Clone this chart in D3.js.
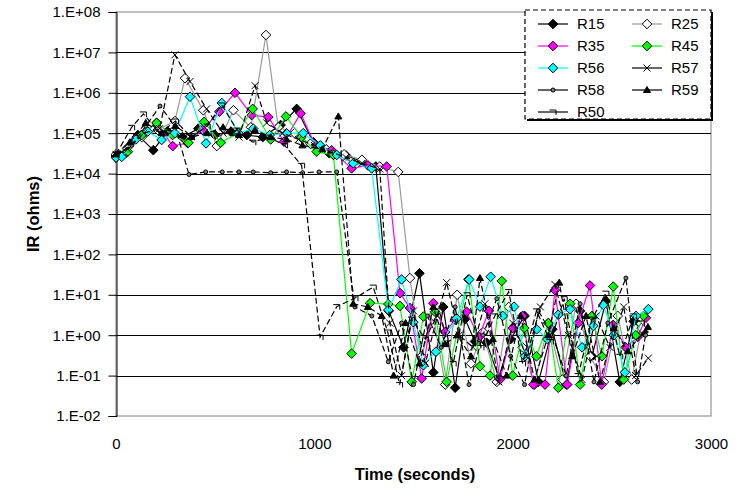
<!DOCTYPE html>
<html><head><meta charset="utf-8">
<script src="https://cdn.jsdelivr.net/npm/d3@7/dist/d3.min.js"></script>
<style>body{margin:0;background:#fff}svg{display:block}text{font-family:"Liberation Sans",Arial,sans-serif}</style>
</head><body><svg id="c" width="740" height="489"></svg>
<script>
const xTicks = [0, 1000, 2000, 3000];
const yTicks = [1e-2, 1e-1, 1e0, 1e1, 1e2, 1e3, 1e4, 1e5, 1e6, 1e7, 1e8];
const yTickLabels = ["1.E-02","1.E-01","1.E+00","1.E+01","1.E+02","1.E+03","1.E+04","1.E+05","1.E+06","1.E+07","1.E+08"];
const seriesNames = ["R15","R25","R35","R45","R56","R57","R58","R59","R50"];

const R15 = [[0,2.8e4],[45,3.2e4],[110,9e4],[188,3.8e4],[260,1.1e5],[335,8e4],[415,1.3e5],[499,9e4],[580,1.1e5],[660,9e4],[740,8e4],[830,1.6e5],[911,4e5],[995,6e4],[1075,3.2e4],[1160,2.8e4],[1240,2e4],[1310,1.5e4],[1375,4],[1450,0.5],[1530,34],[1600,0.12],[1650,5],[1710,0.05],[1760,2.5],[1810,0.7],[1869,0.65],[1930,0.09],[1990,0.8],[2060,3],[2130,0.07],[2200,1.4],[2270,0.06],[2340,4],[2400,0.3],[2470,7],[2540,0.07],[2610,2.2],[2660,1.2]];
const R25 = [[0,3e4],[55,4.2e4],[130,8e4],[210,1.2e5],[297,2e5],[348,2.3e6],[440,3.7e5],[508,4.8e4],[592,3.7e5],[680,1.4e5],[756,2.7e7],[818,1.4e5],[900,1e5],[980,5.5e4],[1060,4e4],[1150,3e4],[1240,2.2e4],[1330,1.5e4],[1423,1.1e4],[1482,26],[1540,0.3],[1600,3],[1660,0.06],[1720,10],[1790,0.2],[1850,1.2],[1920,0.07],[1980,5],[2050,0.5],[2110,0.06],[2180,2],[2250,0.08],[2320,6],[2390,0.3],[2460,0.07],[2530,3],[2600,0.08],[2650,1.5]];
const R35 = [[0,2.5e4],[50,3.2e4],[104,8e4],[205,1.8e5],[286,4.8e4],[361,5.7e4],[437,1.2e5],[521,3.4e5],[600,1e6],[684,2.8e5],[768,2.5e5],[847,6.2e4],[931,3.1e5],[1007,4.7e4],[1087,3.8e4],[1188,1.35e4],[1270,1.6e4],[1365,1.5e4],[1432,11],[1482,4.7],[1541,0.085],[1600,6.2],[1660,1.2],[1709,2.4],[1768,3.8],[1830,0.9],[1880,4],[1936,0.08],[2000,1.5],[2050,3],[2104,0.06],[2163,0.06],[2213,13],[2275,0.06],[2330,2],[2390,17],[2449,0.06],[2507,1.8],[2570,0.5],[2630,0.9],[2672,2.7]];
const R45 = [[0,2.6e4],[60,3.5e4],[130,9e4],[205,1.8e5],[285,9e4],[365,5.8e4],[444,1.9e5],[528,5.8e4],[612,1e5],[689,4e5],[780,7e4],[857,2.6e5],[935,8e4],[1012,3.5e4],[1096,2.9e4],[1188,0.35],[1281,6.2],[1373,5.9],[1432,5.3],[1491,0.07],[1550,2.9],[1608,3.8],[1667,0.07],[1777,24],[1835,0.17],[1886,0.1],[1945,22],[2000,0.1],[2059,1.5],[2120,0.3],[2180,2],[2230,0.05],[2290,6],[2340,0.06],[2400,3],[2450,0.3],[2507,16],[2560,0.08],[2621,1],[2660,3]];
const R56 = [[0,2.5e4],[29,2.6e4],[100,7e4],[160,1.1e5],[230,6.8e4],[297,1e5],[373,8e5],[454,5.6e4],[533,5.6e5],[617,1e5],[692,1.3e5],[775,9e4],[860,1e5],[944,1e5],[1030,5e4],[1113,2.9e4],[1196,1.8e4],[1289,1.35e4],[1373,4.2],[1440,24],[1499,2.1],[1550,0.18],[1613,0.39],[1717,2.6],[1781,24],[1835,5.1],[1889,28],[1950,3],[2007,5.1],[2062,0.3],[2121,1.4],[2175,0.8],[2230,3.2],[2289,4.4],[2350,0.5],[2407,1.7],[2457,5.6],[2510,1],[2566,0.12],[2622,3],[2684,4.4]];
const R57 = [[0,3e4],[60,4e4],[140,1e5],[220,1.3e5],[297,8.7e6],[373,1.9e6],[457,4e5],[540,1e5],[620,8e4],[701,1.5e6],[760,1.8e5],[840,1e5],[920,7e4],[1000,5e4],[1080,3.5e4],[1160,2.5e4],[1240,1.8e4],[1330,1.3e4],[1380,2],[1440,0.1],[1500,4],[1560,0.2],[1620,3],[1667,20],[1730,1],[1800,0.5],[1860,6],[1930,0.07],[2000,2],[2070,0.3],[2140,5],[2213,18],[2280,1],[2350,0.08],[2420,3],[2490,0.5],[2560,5],[2620,0.1],[2684,0.27]];
const R58 = [[0,3e4],[80,5e4],[150,1.5e5],[222,4.7e5],[297,1.5e5],[368,9.5e3],[452,1.1e4],[536,1.1e4],[620,1.1e4],[692,1.1e4],[780,1.05e4],[860,1.1e4],[941,1.05e4],[1024,1.1e4],[1113,1.1e4],[1205,5],[1290,3],[1373,0.22],[1440,2],[1500,0.06],[1570,3],[1640,0.5],[1710,5],[1780,0.06],[1850,1],[1920,8],[1990,0.3],[2060,0.06],[2130,4],[2200,1],[2270,0.1],[2340,6],[2410,0.07],[2480,2],[2571,26],[2630,0.07],[2670,1]];
const R59 = [[0,3e4],[70,6e4],[150,1.8e5],[230,1e5],[300,1.5e5],[380,8e4],[460,1e5],[540,1.4e5],[620,9e4],[700,1.2e5],[780,8e4],[860,7e4],[940,5e4],[1040,4e4],[1121,2.6e5],[1196,6],[1270,5],[1340,3],[1400,0.1],[1460,2],[1530,0.2],[1600,5],[1660,0.6],[1720,1],[1790,0.3],[1835,26],[1900,0.8],[1970,0.1],[2040,3],[2110,0.08],[2180,1],[2235,20],[2300,0.3],[2370,3],[2440,0.07],[2510,1.5],[2580,0.4],[2682,1.6]];
const R50 = [[0,3e4],[79,1.4e5],[138,3e5],[220,1e5],[300,2e5],[380,8e4],[460,1.5e5],[533,5e5],[610,1.2e5],[690,6e4],[770,8e4],[850,5e4],[936,1.6e4],[1029,0.9],[1113,5.1],[1205,8.3],[1297,15.5],[1370,1.2],[1430,0.06],[1490,2.5],[1560,0.8],[1630,4],[1700,0.2],[1770,10],[1840,0.5],[1910,3],[1980,12],[2050,0.2],[2120,4],[2190,0.7],[2260,8],[2330,0.1],[2400,2.5],[2470,11],[2540,0.3],[2610,3],[2650,2]];

const dataByName = {R15, R25, R35, R45, R56, R57, R58, R59, R50};
const styles = {
  R15:{line:"#000000", dash:null, marker:"diamond", fill:"#000000"},
  R25:{line:"#999999", dash:null, marker:"diamond", fill:"#ffffff"},
  R35:{line:"#ff00ff", dash:null, marker:"diamond", fill:"#ff00ff"},
  R45:{line:"#00ff00", dash:null, marker:"diamond", fill:"#00ff00"},
  R56:{line:"#00ffff", dash:null, marker:"diamond", fill:"#00ffff"},
  R57:{line:"#000000", dash:"6,3", marker:"x", fill:"none"},
  R58:{line:"#000000", dash:"6,3", marker:"circle", fill:"#808080"},
  R59:{line:"#000000", dash:"6,3", marker:"triangle", fill:"#000000"},
  R50:{line:"#000000", dash:"6,3", marker:"bar", fill:"none"}
};
const markerPaths = {
  diamond:"M0,-4.8L4.8,0L0,4.8L-4.8,0Z",
  x:"M-3.5,-3.5L3.5,3.5M-3.5,3.5L3.5,-3.5",
  circle:"M-2,0A2,2 0 1,0 2,0A2,2 0 1,0 -2,0Z",
  triangle:"M0,-3.5L3.5,2.5L-3.5,2.5Z",
  bar:"M-3.5,-2H3V3"
};

const svg = d3.select("#c");
const L = 116, R = 711, T = 12, B = 416;
const x = d3.scaleLinear().domain([0,3000]).range([L,R]);
const y = d3.scaleLog().domain([1e-2,1e8]).range([B,T]);

// plot border
svg.append("rect").attr("x",L).attr("y",T).attr("width",R-L).attr("height",B-T)
  .attr("fill","none").attr("stroke","#808080").attr("stroke-width",1);
// gridlines
svg.append("g").selectAll("line").data(yTicks.slice(1,-1)).join("line")
  .attr("x1",L).attr("x2",R).attr("y1",d=>Math.round(y(d))+0.5).attr("y2",d=>Math.round(y(d))+0.5)
  .attr("stroke","#000").attr("stroke-width",1);

// y axis
const yAxis = d3.axisLeft(y).tickValues(yTicks).tickFormat((d,i)=>yTickLabels[i]).tickSize(8).tickPadding(8);
const gy = svg.append("g").attr("transform",`translate(${L+0.5},0)`).call(yAxis);
gy.select(".domain").attr("stroke","#000");
gy.selectAll("text").attr("font-size","15px").attr("fill","#000").style("font-family","'Liberation Sans',Arial,sans-serif");

// x axis labels
const xAxis = d3.axisBottom(x).tickValues(xTicks).tickFormat(d3.format("d")).tickSize(0).tickPadding(22);
const gx = svg.append("g").attr("transform",`translate(0,${B})`).call(xAxis);
gx.select(".domain").remove();
gx.selectAll("text").attr("font-size","15px").attr("fill","#000").style("font-family","'Liberation Sans',Arial,sans-serif");

svg.append("text").attr("x",415).attr("y",480).attr("text-anchor","middle")
  .attr("font-size","16.5px").attr("font-weight","bold").text("Time (seconds)");
svg.append("text").attr("transform","translate(39,214) rotate(-90)").attr("text-anchor","middle")
  .attr("font-size","16.5px").attr("font-weight","bold").text("IR (ohms)");

// series
const line = d3.line().x(d=>x(d[0])).y(d=>y(d[1]));
const plot = svg.append("g");
seriesNames.forEach(name=>{
  const s = styles[name], data = dataByName[name];
  const g = plot.append("g");
  g.append("path").datum(data).attr("d",line).attr("fill","none")
    .attr("stroke",s.line).attr("stroke-width",1.2).attr("stroke-dasharray",s.dash);
  g.selectAll("path.m").data(data).join("path").attr("class","m")
    .attr("transform",d=>`translate(${x(d[0])},${y(d[1])})`)
    .attr("d",markerPaths[s.marker])
    .attr("fill",s.fill).attr("stroke","#000").attr("stroke-width",1);
});

// legend
const lx = 525, ly = 10, lw = 186, lh = 109;
svg.append("rect").attr("x",lx+2).attr("y",ly+2).attr("width",lw).attr("height",lh).attr("fill","#000");
svg.append("rect").attr("x",lx).attr("y",ly).attr("width",lw).attr("height",lh)
  .attr("fill","#fff").attr("stroke","#000").attr("stroke-width",1.2).attr("stroke-dasharray","5,3");
seriesNames.forEach((name,i)=>{
  const s = styles[name];
  const col = i%2, row = Math.floor(i/2);
  const cx = lx + 28 + col*94, cy = ly + 14 + row*22;
  const g = svg.append("g");
  g.append("line").attr("x1",cx-15).attr("x2",cx+15).attr("y1",cy).attr("y2",cy)
    .attr("stroke",s.line).attr("stroke-width",1.2);
  g.append("path").attr("transform",`translate(${cx},${cy})`).attr("d",markerPaths[s.marker])
    .attr("fill",s.fill).attr("stroke","#000").attr("stroke-width",1);
  g.append("text").attr("x",cx+24).attr("y",cy+5).attr("font-size","15px").text(name);
});
</script></body></html>
